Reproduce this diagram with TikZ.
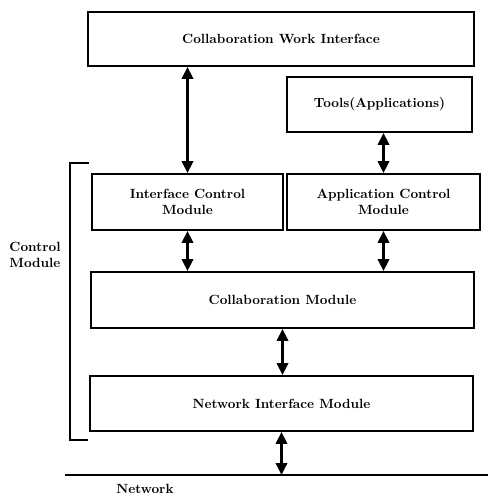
\documentclass[tikz,border=0pt]{standalone}
\usetikzlibrary{arrows.meta}

\begin{document}
\begin{tikzpicture}[x=0.75pt, y=-0.75pt,
		box/.style={draw, line width=1.4pt, align=center, font=\bfseries},
		link/.style={line width=1.8pt, {Triangle[length=9pt,width=8.5pt]}-{Triangle[length=9pt,width=8.5pt]}}]
		\useasboundingbox (0,0) rectangle (488,496);
		% module boxes
		\node[box, minimum width=289.5pt, minimum height=40.5pt] (cwi) at (281,39) {Collaboration Work Interface};
		\node[box, minimum width=138.75pt, minimum height=41.25pt] (tools) at (379.5,104.5) {Tools(Applications)};
		\node[box, minimum width=143.25pt, minimum height=42pt] (icm) at (187.5,202) {Interface Control\\Module};
		\node[box, minimum width=144.75pt, minimum height=42pt] (acm) at (383.5,202) {Application Control\\Module};
		\node[box, minimum width=287.25pt, minimum height=42pt] (cm) at (282.5,300) {Collaboration Module};
		\node[box, minimum width=287.25pt, minimum height=41.25pt] (nim) at (281.5,403.5) {Network Interface Module};
		% network line
		\coordinate (netl) at (65,475);
		\coordinate (netr) at (488,475);
		\coordinate (net) at (281,475);
		\draw[line width=1.4pt] (netl) -- (netr);
		\node[font=\bfseries] (netlabel) at (145,489) {Network};
		% control module bracket
		\coordinate (bt) at (89,163);
		\coordinate (bb) at (88,440);
		\draw[line width=1.4pt] (bt) -- (70,163) -- (70,440) -- (bb);
		\node[font=\bfseries, align=left] (ctrl) at (35,255) {Control\\Module};
		% connectors
		\draw[link] (cwi.south -| icm.north) -- (icm.north);
		\draw[link] (tools.south -| acm.north) -- (acm.north);
		\draw[link] (icm.south) -- (icm.south |- cm.north);
		\draw[link] (acm.south) -- (acm.south |- cm.north);
		\draw[link] (cm.south) -- (cm.south |- nim.north);
		\draw[link] (nim.south) -- (nim.south |- net);
	\end{tikzpicture}
\end{document}
